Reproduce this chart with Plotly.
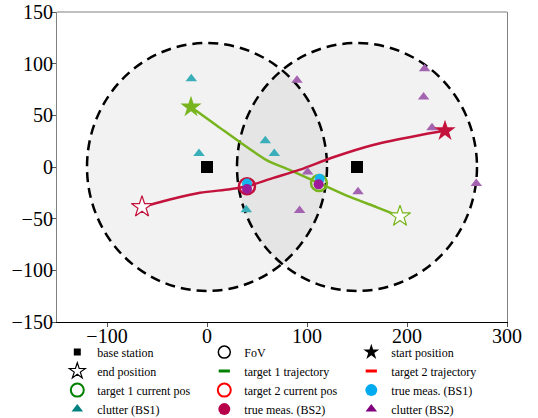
import plotly.graph_objects as go

# ---- data ----
bs_x = [0, 150]
bs_y = [0, 0]
fov_radius = 120

t1_x = [-16, 10, 33, 60, 83, 112, 143, 170, 193]
t1_y = [58, 40, 24, 6.5, -3, -15.5, -29, -39, -47.7]
t2_x = [-65, -35, -7, 23, 40, 65, 93, 127, 167, 210, 238]
t2_y = [-38.7, -31, -25, -21.5, -18.7, -11, -2.6, 9.7, 21.6, 30.3, 35]

t1_cur = (112, -15.5)
t2_cur = (40, -18.7)

meas_bs1_x = [40, 112.7]
meas_bs1_y = [-16, -11.3]
meas_bs2_x = [40, 111.6]
meas_bs2_y = [-21.3, -16.8]

clut1_x = [-15.7, -8, 58.3, 67.3, 39.3]
clut1_y = [85.5, 13, 25.5, 13, -41.3]
clut2_x = [90, 100.6, 92.6, 151, 217.6, 216.6, 225, 269.3]
clut2_y = [84, -4.8, -42, -24, 95, 67.8, 38, -16]

x_ticks = [-100, 0, 100, 200, 300]
y_ticks = [-150, -100, -50, 0, 50, 100, 150]

GREEN = '#78b41e'
RED = '#c3133c'
FONT = 'Liberation Serif'

fig = go.Figure()

# FoV circles
for cx, cy in zip(bs_x, bs_y):
    fig.add_shape(type='circle', xref='x', yref='y',
                  x0=cx - fov_radius, x1=cx + fov_radius,
                  y0=cy - fov_radius, y1=cy + fov_radius,
                  fillcolor='rgba(0,0,0,0.05)',
                  line=dict(color='black', width=2.5, dash='10px,6px'),
                  layer='below')

# trajectories
fig.add_trace(go.Scatter(x=t1_x, y=t1_y, mode='lines', line=dict(color=GREEN, width=2.5, shape='spline', smoothing=0.8), showlegend=False))
fig.add_trace(go.Scatter(x=t2_x, y=t2_y, mode='lines', line=dict(color=RED, width=2.5, shape='spline', smoothing=0.8), showlegend=False))

# clutter
fig.add_trace(go.Scatter(x=clut1_x, y=clut1_y, mode='markers', marker=dict(symbol='triangle-up', size=10, color='#3aafba'), showlegend=False))
fig.add_trace(go.Scatter(x=clut2_x, y=clut2_y, mode='markers', marker=dict(symbol='triangle-up', size=10, color='#a463b0'), showlegend=False))

# base stations
fig.add_trace(go.Scatter(x=bs_x, y=bs_y, mode='markers', marker=dict(symbol='square', size=12, color='black'), showlegend=False))

# start / end stars
fig.add_trace(go.Scatter(x=[t1_x[0]], y=[t1_y[0]], mode='markers', marker=dict(symbol='star', size=16, color=GREEN), showlegend=False))
fig.add_trace(go.Scatter(x=[t2_x[-1]], y=[t2_y[-1]], mode='markers', marker=dict(symbol='star', size=16, color=RED), showlegend=False))
fig.add_trace(go.Scatter(x=[t1_x[-1]], y=[t1_y[-1]], mode='markers', marker=dict(symbol='star', size=16, color='white', line=dict(color=GREEN, width=1.2)), showlegend=False))
fig.add_trace(go.Scatter(x=[t2_x[0]], y=[t2_y[0]], mode='markers', marker=dict(symbol='star', size=16, color='white', line=dict(color=RED, width=1.2)), showlegend=False))

# current positions
fig.add_trace(go.Scatter(x=[t1_cur[0]], y=[t1_cur[1]], mode='markers', marker=dict(symbol='circle-open', size=16, color=GREEN, line=dict(width=2.5)), showlegend=False))
fig.add_trace(go.Scatter(x=[t2_cur[0]], y=[t2_cur[1]], mode='markers', marker=dict(symbol='circle-open', size=16, color=RED, line=dict(width=2.5)), showlegend=False))

# true measurements
fig.add_trace(go.Scatter(x=meas_bs1_x, y=meas_bs1_y, mode='markers', marker=dict(symbol='circle', size=10, color='#14b4ee'), showlegend=False))
fig.add_trace(go.Scatter(x=meas_bs2_x, y=meas_bs2_y, mode='markers', marker=dict(symbol='circle', size=10, color='#9d1b98'), showlegend=False))

# legend entries (row-wise order for a 3-column layout)
legend_items = [
    ('base station', dict(symbol='square', size=7, color='black')),
    ('FoV', dict(symbol='circle-open', size=12, color='black', line=dict(width=1.5))),
    ('start position', dict(symbol='star', size=12, color='black')),
    ('end position', dict(symbol='star-open', size=12, color='black', line=dict(width=1.2))),
    ('target 1 trajectory', dict(symbol='line-ew-open', size=8, color='#008000', line=dict(width=3))),
    ('target 2 trajectory', dict(symbol='line-ew-open', size=8, color='#ff0000', line=dict(width=3))),
    ('target 1 current pos', dict(symbol='circle-open', size=13, color='#008000', line=dict(width=2))),
    ('target 2 current pos', dict(symbol='circle-open', size=13, color='#ff0000', line=dict(width=2))),
    ('true meas. (BS1)', dict(symbol='circle', size=12, color='#00aaee')),
    ('clutter (BS1)', dict(symbol='triangle-up', size=10, color='#008080')),
    ('true meas. (BS2)', dict(symbol='circle', size=12, color='#b8004a')),
    ('clutter (BS2)', dict(symbol='triangle-up', size=10, color='#800080')),
]
for name, mk in legend_items:
    fig.add_trace(go.Scatter(x=[None], y=[None], mode='markers', marker=mk, name=name, showlegend=True))

# top border line
fig.add_shape(type='line', xref='paper', yref='paper', x0=0, x1=1, y0=1, y1=1,
              line=dict(color='#808080', width=1.2))

fig.update_layout(
    width=538, height=418,
    margin=dict(l=57, r=31, t=12, b=96, autoexpand=False),
    paper_bgcolor='white', plot_bgcolor='white',
    font=dict(family=FONT, color='black'),
    showlegend=True,
    hovermode=False,
    legend=dict(orientation='h', xref='container', yref='container',
                x=0.1065, xanchor='left', y=0.1923, yanchor='top',
                entrywidth=102, font=dict(size=12, family=FONT),
                bgcolor='rgba(0,0,0,0)', itemclick=False),
    xaxis=dict(range=[-150, 300], tickvals=x_ticks, showgrid=False, zeroline=False,
               showline=True, linecolor='black', linewidth=1.2, mirror=False, automargin=False,
               ticks='outside', ticklen=4, tickcolor='#555', ticklabeloverflow='allow',
               ticklabelstandoff=-8, tickfont=dict(size=20, family=FONT)),
    yaxis=dict(range=[-150, 150], tickvals=y_ticks, showgrid=False, zeroline=False,
               showline=True, linecolor='#808080', linewidth=1.2, mirror=True, automargin=False,
               ticks='outside', ticklen=4, tickcolor='#555', ticklabeloverflow='allow',
               ticklabelstandoff=-5, tickfont=dict(size=20, family=FONT)),
)

fig.write_html('out.html', config={'displayModeBar': False},
               post_script="document.body.style.margin='0';")
